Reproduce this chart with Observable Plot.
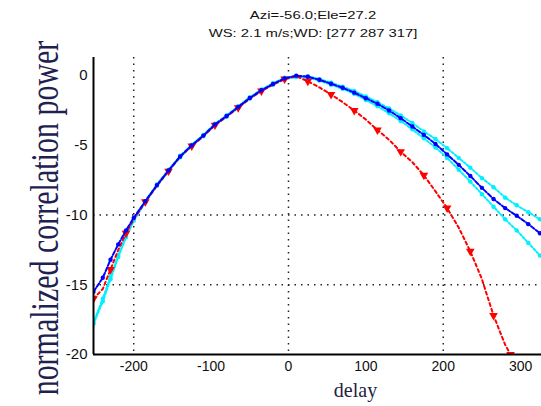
<!DOCTYPE html>
<html>
<head>
<meta charset="utf-8">
<script src="https://cdn.jsdelivr.net/npm/d3@7"></script>
<script src="https://cdn.jsdelivr.net/npm/@observablehq/plot@0.6"></script>
<style>
  body { margin: 0; background: #fff; }
  #wrap { position: relative; width: 541px; height: 406px; overflow: hidden; }
  .ttl { position: absolute; left: -3px; width: 630px; text-align: center; font-family: "Liberation Sans", Arial, sans-serif; font-size: 11px; color: #111; transform: scaleX(1.35); transform-origin: 312px 0; z-index: 2; }
  #chart { position: absolute; left: 0; top: 0; }
</style>
</head>
<body>
<div id="wrap">
  <div id="chart"></div>
  <div class="ttl" style="top:9px;">Azi=-56.0;Ele=27.2</div>
  <div class="ttl" style="top:27px;">WS: 2.1 m/s;WD: [277 287 317]</div>
</div>
<script>
const delay = [-252,-240,-230,-220,-210,-200,-185,-170,-155,-140,-125,-110,-95,-80,-65,-50,-35,-20,-5,10,25,40,55,70,85,100,115,130,145,160,175,190,205,220,235,250,265,280,295,310,325];
const bluePower = [-15.5,-14.5,-13.2,-12.1,-11.1,-10.2,-9.0,-7.85,-6.8,-5.8,-5.0,-4.3,-3.5,-2.9,-2.25,-1.6,-1.05,-0.6,-0.2,0.0,-0.08,-0.3,-0.58,-0.87,-1.22,-1.62,-2.02,-2.5,-3.05,-3.65,-4.25,-4.9,-5.65,-6.4,-7.2,-8.05,-8.85,-9.5,-10.05,-10.65,-11.3];
const cyanUpper = [-17.7,-16.0,-14.4,-12.9,-11.5,-10.3,-9.0,-7.8,-6.75,-5.75,-4.95,-4.25,-3.45,-2.85,-2.2,-1.55,-1.0,-0.55,-0.15,-0.05,-0.05,-0.25,-0.5,-0.8,-1.1,-1.5,-1.9,-2.35,-2.85,-3.4,-4.0,-4.55,-5.2,-5.9,-6.6,-7.35,-8.0,-8.75,-9.3,-9.8,-10.3];
const cyanLower = [-17.8,-16.2,-14.6,-13.0,-11.6,-10.4,-9.1,-7.9,-6.85,-5.85,-5.05,-4.35,-3.55,-2.95,-2.3,-1.65,-1.1,-0.65,-0.25,-0.1,-0.15,-0.35,-0.65,-0.95,-1.3,-1.75,-2.2,-2.7,-3.25,-3.85,-4.5,-5.15,-5.9,-6.75,-7.6,-8.5,-9.4,-10.3,-11.1,-12.0,-12.9];
const redDelay = [-252,-240,-230,-220,-210,-200,-185,-170,-155,-140,-125,-110,-95,-80,-65,-50,-35,-20,-5,10,25,40,55,70,85,100,115,130,145,160,175,190,205,220,235,250,265,280,287];
const redPower = [-16.0,-15.3,-13.9,-12.5,-11.3,-10.3,-9.05,-7.9,-6.85,-5.8,-5.05,-4.35,-3.55,-2.95,-2.3,-1.65,-1.1,-0.65,-0.25,-0.05,-0.4,-0.85,-1.35,-1.9,-2.5,-3.15,-3.9,-4.6,-5.45,-6.2,-7.15,-8.3,-9.5,-10.9,-12.6,-14.6,-17.2,-19.3,-20.0];
const xTicks = [-200,-100,0,100,200,300];
const yTicks = [0,-5,-10,-15,-20];
const xGrid = [-200,0,200];
const yGrid = [-10,-15];

const blue = delay.map((d,i) => ({x:d, y:bluePower[i]}));
const cyanU = delay.map((d,i) => ({x:d, y:cyanUpper[i]}));
const cyanL = delay.map((d,i) => ({x:d, y:cyanLower[i]}));
const red = redDelay.map((d,i) => ({x:d, y:redPower[i]}));

const chart = Plot.plot({
  width: 541, height: 406,
  marginLeft: 93, marginRight: 0, marginTop: 57, marginBottom: 52,
  x: {domain: [-252, 327]},
  y: {domain: [-20, 1.3]},
  style: {fontFamily: "'Liberation Sans', Arial, sans-serif", background: "#fff"},
  marks: [
    Plot.ruleX(xGrid, {stroke: "#222", strokeWidth: 1.5, strokeDasharray: "1.5,5"}),
    Plot.ruleY(yGrid, {stroke: "#222", strokeWidth: 1.5, strokeDasharray: "1.5,5"}),
    Plot.line(cyanU, {x: "x", y: "y", stroke: "#00f0ff", strokeWidth: 2, strokeDasharray: "2,2", clip: true}),
    Plot.line(cyanL, {x: "x", y: "y", stroke: "#00f0ff", strokeWidth: 2, strokeDasharray: "2,2", clip: true}),
    Plot.dot(cyanU, {x: "x", y: "y", fill: "#00f0ff", r: 2.2, clip: true}),
    Plot.dot(cyanL, {x: "x", y: "y", fill: "#00f0ff", r: 2.2, clip: true}),
    Plot.line(red, {x: "x", y: "y", stroke: "#ff0000", strokeWidth: 2, strokeDasharray: "3,3", clip: true}),
    Plot.dot(red.filter((d,i) => i % 2 === 0), {x: "x", y: "y", fill: "#ff0000", symbol: "triangle", rotate: 180, r: 3.2, clip: true}),
    Plot.line(blue, {x: "x", y: "y", stroke: "#0000ff", strokeWidth: 2, strokeDasharray: "4,2", clip: true}),
    Plot.dot(blue, {x: "x", y: "y", fill: "#0000ff", r: 2.2, clip: true}),
    Plot.axisX({ticks: xTicks, tickSize: 0, tickPadding: 7, fontSize: 14, label: null, tickFormat: d => String(d), color: "#111"}),
    Plot.axisY({ticks: yTicks, tickSize: 0, tickPadding: 6, fontSize: 15, label: null, tickFormat: d => String(d), color: "#111"}),
    Plot.ruleX([-252], {stroke: "#000", strokeWidth: 2}),
    Plot.ruleY([-20], {stroke: "#000", strokeWidth: 2}),
    Plot.text(["delay"], {frameAnchor: "bottom", textAnchor: "middle", dx: 38, dy: 42, fontFamily: "'Liberation Serif', 'Times New Roman', serif", fontSize: 20, fill: "#222244"}),
    Plot.text(["normalized correlation power"], {frameAnchor: "left", textAnchor: "middle", rotate: -90, dx: -48, dy: 12, fontFamily: "'Liberation Serif', 'Times New Roman', serif", fontSize: 30, fill: "#1e2250"})
  ]
});
document.getElementById("chart").appendChild(chart);
d3.select(chart).selectAll("text").each(function() {
  const t = d3.select(this);
  if (t.text() === "normalized correlation power") {
    t.attr("transform", (t.attr("transform") || "") + " scale(1,1.3)");
  } else if (t.text() === "delay") {
    t.attr("transform", (t.attr("transform") || "") + " scale(1,1.1)");
  }
});
</script>
</body>
</html>
